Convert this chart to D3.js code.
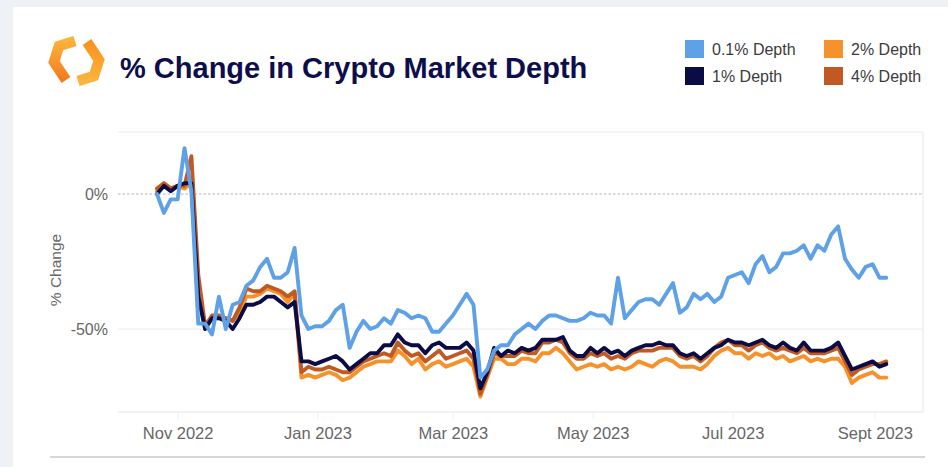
<!DOCTYPE html>
<html>
<head>
<meta charset="utf-8">
<script src="https://cdn.jsdelivr.net/npm/d3@7/dist/d3.min.js"></script>
<style>
  html, body { margin: 0; padding: 0; background: #eef1f6; }
  svg { display: block; }
  text { font-family: "Liberation Sans", Arial, Helvetica, sans-serif; }
</style>
</head>
<body>
<svg id="chart" width="948" height="467"></svg>
<script>
// ---------- DATA ----------
const dates = [
"2022-10-23","2022-10-26","2022-10-29","2022-11-01","2022-11-04","2022-11-07","2022-11-10","2022-11-13","2022-11-16","2022-11-19",
"2022-11-22","2022-11-25","2022-11-28","2022-12-01","2022-12-04","2022-12-07","2022-12-10","2022-12-13","2022-12-16","2022-12-19",
"2022-12-22","2022-12-25","2022-12-28","2022-12-31","2023-01-03","2023-01-06","2023-01-09","2023-01-12","2023-01-15","2023-01-18",
"2023-01-21","2023-01-24","2023-01-27","2023-01-30","2023-02-02","2023-02-05","2023-02-08","2023-02-11","2023-02-14","2023-02-17",
"2023-02-20","2023-02-23","2023-02-26","2023-03-01","2023-03-04","2023-03-07","2023-03-10","2023-03-13","2023-03-16","2023-03-19",
"2023-03-22","2023-03-25","2023-03-28","2023-03-31","2023-04-03","2023-04-06","2023-04-09","2023-04-12","2023-04-15","2023-04-18",
"2023-04-21","2023-04-24","2023-04-27","2023-04-30","2023-05-03","2023-05-06","2023-05-09","2023-05-12","2023-05-15","2023-05-18",
"2023-05-21","2023-05-24","2023-05-27","2023-05-30","2023-06-02","2023-06-05","2023-06-08","2023-06-11","2023-06-14","2023-06-17",
"2023-06-20","2023-06-23","2023-06-26","2023-06-29","2023-07-02","2023-07-05","2023-07-08","2023-07-11","2023-07-14","2023-07-17",
"2023-07-20","2023-07-23","2023-07-26","2023-07-29","2023-08-01","2023-08-04","2023-08-07","2023-08-10","2023-08-13","2023-08-16",
"2023-08-19","2023-08-22","2023-08-25","2023-08-28","2023-08-31","2023-09-03","2023-09-06"
];

const depth01 = [
 0,-7,-2,-2,17,1,-48,-48,-52,-38,
 -50,-41,-40,-34,-32,-27,-24,-31,-31,-29,
 -20,-45,-50,-49,-49,-47,-43,-41,-57,-51,
 -47,-50,-49,-46,-48,-43,-44,-46,-45,-46,
 -51,-51,-48,-45,-41,-37,-41,-68,-65,-58,
 -56,-56,-52,-50,-48,-50,-47,-45,-45,-46,
 -47,-47,-46,-44,-45,-45,-48,-31,-46,-43,
 -40,-39,-39,-41,-37,-33,-44,-42,-37,-39,
 -37,-40,-38,-31,-30,-29,-33,-26,-23,-29,
 -27,-22,-22,-21,-19,-24,-19,-21,-15,-12,
 -24,-28,-31,-27,-26,-31,-31
];

const depth1 = [
 0,3,1,3,4,4,-38,-50,-46,-46,
 -47,-50,-46,-41,-41,-40,-38,-38,-40,-42,
 -40,-62,-62,-63,-62,-61,-60,-62,-65,-63,
 -61,-59,-59,-56,-56,-52,-55,-56,-56,-59,
 -56,-55,-57,-57,-57,-55,-58,-72,-66,-57,
 -60,-58,-59,-57,-58,-57,-54,-54,-54,-53,
 -58,-60,-60,-57,-59,-57,-59,-58,-60,-58,
 -57,-56,-56,-55,-56,-56,-59,-60,-59,-61,
 -59,-57,-56,-54,-55,-55,-56,-55,-54,-56,
 -57,-55,-57,-58,-55,-58,-58,-58,-57,-55,
 -60,-65,-64,-63,-62,-64,-63
];

const depth2 = [
 1,4,2,3,2,4,-34,-50,-46,-45,
 -46,-47,-44,-38,-38,-37,-35,-36,-37,-40,
 -37,-68,-67,-68,-67,-66,-67,-69,-68,-66,
 -64,-63,-62,-62,-62,-58,-60,-63,-61,-65,
 -63,-62,-64,-63,-62,-61,-64,-75,-68,-61,
 -61,-63,-63,-61,-61,-62,-59,-59,-57,-59,
 -62,-65,-64,-63,-64,-63,-65,-64,-65,-64,
 -62,-63,-64,-62,-61,-62,-64,-64,-64,-65,
 -63,-60,-58,-57,-59,-59,-61,-59,-60,-59,
 -61,-60,-62,-61,-60,-62,-61,-62,-61,-61,
 -64,-70,-68,-67,-66,-68,-68
];

const depth4 = [
 2,4,2,3,3,14,-30,-49,-45,-45,
 -46,-47,-42,-35,-36,-36,-34,-35,-36,-38,
 -36,-66,-64,-65,-65,-64,-65,-66,-66,-64,
 -62,-61,-60,-59,-60,-55,-58,-60,-59,-62,
 -60,-58,-61,-60,-59,-58,-61,-74,-67,-59,
 -60,-60,-60,-58,-59,-59,-55,-55,-54,-55,
 -59,-61,-61,-59,-60,-59,-61,-60,-61,-59,
 -58,-58,-58,-57,-57,-57,-60,-61,-60,-62,
 -60,-57,-55,-54,-56,-56,-58,-56,-55,-57,
 -58,-57,-58,-59,-57,-59,-59,-59,-58,-57,
 -62,-67,-65,-64,-63,-63,-62
];

const seriesNames = ["0.1% Depth", "1% Depth", "2% Depth", "4% Depth"];
const seriesColors = ["#5ea1e6", "#0b0b45", "#f5922b", "#c05a22"];

const xTickDates = ["2022-11-01","2023-01-01","2023-03-01","2023-05-01","2023-07-01","2023-09-01"];
const xTickLabels = ["Nov 2022","Jan 2023","Mar 2023","May 2023","Jul 2023","Sept 2023"];
const yTickValues = [0, -50];
const yTickLabels = ["0%", "-50%"];

const titleText = "% Change in Crypto Market Depth";
const yAxisTitle = "% Change";

// ---------- CHART ----------
const parse = d3.utcParse("%Y-%m-%d");
const svg = d3.select("#chart");
const W = 948, H = 467;

svg.append("rect").attr("width", W).attr("height", H).attr("fill", "#eef1f6");
svg.append("rect").attr("x", 13).attr("y", 7).attr("width", W - 13).attr("height", H - 7).attr("fill", "#ffffff");

const plot = { left: 118, right: 923, top: 132, bottom: 412 };

const x = d3.scaleUtc()
  .domain([parse("2022-10-06"), parse("2023-09-22")])
  .range([plot.left, plot.right]);
const y = d3.scaleLinear()
  .domain([-50, 0])
  .range([329, 194]);

// frame lines
const frameColor = "#ebebf0";
svg.append("line").attr("x1", plot.left).attr("x2", plot.right).attr("y1", plot.top).attr("y2", plot.top)
  .attr("stroke", frameColor).attr("stroke-width", 1);
svg.append("line").attr("x1", plot.left).attr("x2", plot.right).attr("y1", plot.bottom).attr("y2", plot.bottom)
  .attr("stroke", "#e6e6ec").attr("stroke-width", 1.2);
svg.append("line").attr("x1", plot.right).attr("x2", plot.right).attr("y1", plot.top).attr("y2", plot.bottom)
  .attr("stroke", frameColor).attr("stroke-width", 1.2);

// y grid
yTickValues.forEach((v, i) => {
  svg.append("line")
    .attr("x1", plot.left).attr("x2", plot.right)
    .attr("y1", y(v)).attr("y2", y(v))
    .attr("stroke", v === 0 ? "#b4b4bc" : "#ececf0")
    .attr("stroke-width", v === 0 ? 1 : 1.2)
    .attr("stroke-dasharray", v === 0 ? "2.5,2" : null);
});

// y axis labels
const yAxis = d3.axisLeft(y).tickValues(yTickValues)
  .tickFormat((d, i) => yTickLabels[i]).tickSize(0).tickPadding(0);
const gy = svg.append("g").attr("transform", `translate(108,0)`).call(yAxis);
gy.select(".domain").remove();
gy.selectAll("text").attr("fill", "#666").attr("font-size", 16)
  .attr("font-family", '"Liberation Sans", Arial, sans-serif');

// x axis
const xAxis = d3.axisBottom(x).tickValues(xTickDates.map(parse))
  .tickFormat((d, i) => xTickLabels[i]).tickSize(7).tickPadding(8);
const gx = svg.append("g").attr("transform", `translate(0,${plot.bottom})`).call(xAxis);
gx.select(".domain").remove();
gx.selectAll(".tick line").attr("stroke", "#eeeef2");
gx.selectAll("text").attr("fill", "#666").attr("font-size", 16.5)
  .attr("font-family", '"Liberation Sans", Arial, sans-serif');

// y axis title
svg.append("text")
  .attr("transform", "translate(61,270) rotate(-90)")
  .attr("text-anchor", "middle")
  .attr("fill", "#666").attr("font-size", 15.5)
  .text(yAxisTitle);

// lines
const allSeries = [depth01, depth1, depth2, depth4];
const drawOrder = [2, 3, 1, 0];
const line = d3.line()
  .x((d, i) => x(parse(dates[i])))
  .y(d => y(d));
drawOrder.forEach(si => {
  svg.append("path")
    .datum(allSeries[si])
    .attr("fill", "none")
    .attr("stroke", seriesColors[si])
    .attr("stroke-width", 3.9)
    .attr("stroke-linejoin", "round")
    .attr("stroke-linecap", "round")
    .attr("d", line);
});

// bottom separator
svg.append("line").attr("x1", 50).attr("x2", 925).attr("y1", 457).attr("y2", 457)
  .attr("stroke", "#d6d6dc").attr("stroke-width", 2);

// title
svg.append("text")
  .attr("x", 120).attr("y", 78)
  .attr("fill", "#0e0e4c")
  .attr("font-size", 29)
  .attr("font-weight", "bold")
  .text(titleText);

// logo
const defs = svg.append("defs");
const g1 = defs.append("linearGradient").attr("id", "lg1").attr("x1", "0").attr("y1", "0").attr("x2", "0").attr("y2", "1");
g1.append("stop").attr("offset", "0%").attr("stop-color", "#fbb23a");
g1.append("stop").attr("offset", "100%").attr("stop-color", "#f47a1f");
const g2 = defs.append("linearGradient").attr("id", "lg2").attr("x1", "0").attr("y1", "0").attr("x2", "0").attr("y2", "1");
g2.append("stop").attr("offset", "0%").attr("stop-color", "#f7931e");
g2.append("stop").attr("offset", "100%").attr("stop-color", "#fbb43c");
svg.append("path")
  .attr("d", "M75,41 L59,46 L54,62 L66,80")
  .attr("fill", "none").attr("stroke", "url(#lg1)").attr("stroke-width", 10.5).attr("stroke-linejoin", "miter");
svg.append("path")
  .attr("d", "M78,81 L94,76 L99,60 L87,42")
  .attr("fill", "none").attr("stroke", "url(#lg2)").attr("stroke-width", 10.5).attr("stroke-linejoin", "miter");

// legend
const legendPos = [[685, 40], [685, 67], [824, 40], [824, 67]];
seriesNames.forEach((name, i) => {
  const [lx, ly] = legendPos[i];
  svg.append("rect").attr("x", lx).attr("y", ly).attr("width", 19).attr("height", 18).attr("fill", seriesColors[i]);
  svg.append("text").attr("x", lx + 27).attr("y", ly + 15)
    .attr("fill", "#3c3c3c").attr("font-size", 16).text(name);
});
</script>
</body>
</html>
